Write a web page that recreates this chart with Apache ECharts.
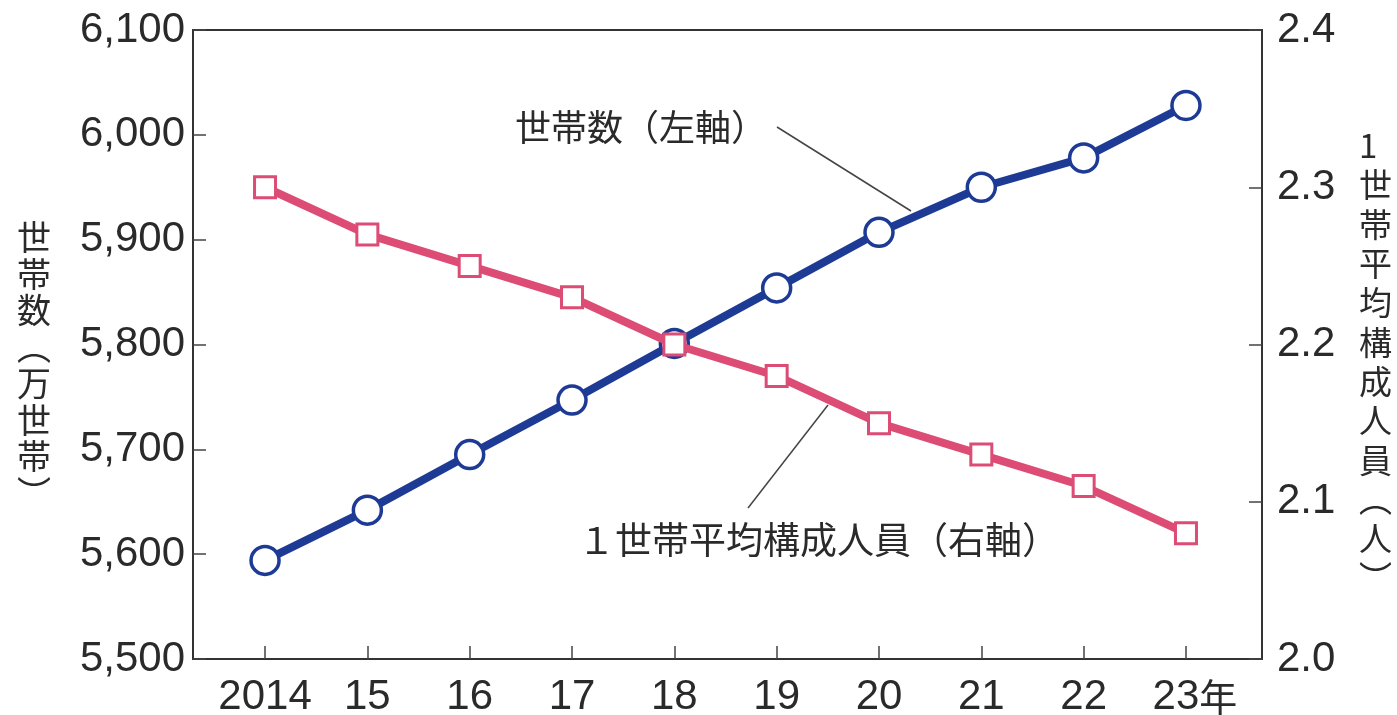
<!DOCTYPE html>
<html><head><meta charset="utf-8">
<script src="https://cdn.jsdelivr.net/npm/echarts@6/dist/echarts.min.js"></script>
<style>html,body{margin:0;padding:0;background:#fff}#c{width:1397px;height:715px}</style>
</head><body><div id="c"></div>
<script>
var years = [2014, 2015, 2016, 2017, 2018, 2019, 2020, 2021, 2022, 2023];
var yearLabels = ['2014', '15', '16', '17', '18', '19', '20', '21', '22', '23年'];
var households = [5594, 5642, 5695, 5747, 5801, 5854, 5907, 5950, 5978, 6028];
var avgMembers = [2.30, 2.27, 2.25, 2.23, 2.20, 2.18, 2.15, 2.13, 2.11, 2.08];
var leftTicks = [5500, 5600, 5700, 5800, 5900, 6000, 6100];
var rightTicks = [2.0, 2.1, 2.2, 2.3, 2.4];
var leftTitle = '世帯数︵万世帯︶';
var rightTitle = '1世帯平均構成人員︵人︶';
var noteHouseholds = '世帯数（左軸）';
var noteMembers = '１世帯平均構成人員（右軸）';

var BLUE = '#1d3a95', PINK = '#dc4c74', TXT = '#2a2a2a';
var NUM = '"Liberation Sans", Arial, Helvetica, sans-serif';
var CJK = '"Noto Sans CJK JP", "Noto Sans", sans-serif';

function pairs(xs, ys){ return xs.map(function(x,i){ return [x, ys[i]]; }); }

var chart = echarts.init(document.getElementById('c'));
chart.setOption({
  animation: false,
  grid: {left: 193, right: 135, top: 30, bottom: 56, outerBoundsMode: 'none', containLabel: false,
    show: true, borderColor: '#333', borderWidth: 2, backgroundColor: 'transparent'},
  xAxis: {
    type: 'value', min: 2013.296, max: 2023.743,
    axisLine: {show: false},
    splitLine: {show: false},
    axisTick: {show: true, inside: true, length: 13, lineStyle: {color: '#444', width: 1.5}, customValues: years},
    axisLabel: {
      customValues: years, margin: 17, color: TXT, fontSize: 42, fontFamily: NUM,
      formatter: function(v){ var i = years.indexOf(Math.round(v)); var s = yearLabels[i];
        if (i === years.length - 1) return '{p|}{n|23}{k|年}'; return s; },
      rich: {p: {width: 18}, n: {fontSize: 42, fontFamily: NUM, color: TXT}, k: {fontSize: 38, fontFamily: CJK, color: TXT}}
    }
  },
  yAxis: [{
    type: 'value', min: leftTicks[0], max: leftTicks[leftTicks.length-1], interval: 100, position: 'left',
    axisLine: {show: false}, splitLine: {show: false},
    axisTick: {show: true, inside: true, length: 13, lineStyle: {color: '#444', width: 1.5}},
    axisLabel: {margin: 8, color: TXT, fontSize: 42, fontFamily: NUM,
      formatter: function(v){ return v.toLocaleString('en-US'); }}
  }, {
    type: 'value', min: rightTicks[0], max: rightTicks[rightTicks.length-1], interval: 0.1, position: 'right',
    axisLine: {show: false}, splitLine: {show: false},
    axisTick: {show: true, inside: true, length: 13, lineStyle: {color: '#444', width: 1.5}},
    axisLabel: {margin: 15, color: TXT, fontSize: 42, fontFamily: NUM,
      formatter: function(v){ return v.toFixed(1); }}
  }],
  series: [{
    type: 'line', yAxisIndex: 0, data: pairs(years, households), z: 3,
    symbol: 'circle', symbolSize: 28,
    lineStyle: {color: BLUE, width: 8},
    itemStyle: {color: '#fff', borderColor: BLUE, borderWidth: 3.5}
  }, {
    type: 'line', yAxisIndex: 1, data: pairs(years, avgMembers), z: 4,
    symbol: 'rect', symbolSize: 21,
    lineStyle: {color: PINK, width: 8},
    itemStyle: {color: '#fff', borderColor: PINK, borderWidth: 3}
  }],
  graphic: [
    {type: 'text', left: 17, top: 219, style: {text: leftTitle.split('').join('\n'), font: '34px ' + CJK, fill: TXT, lineHeight: 36.5, align: 'center'}},
    {type: 'text', left: 1359, top: 126, style: {text: rightTitle.split('').join('\n'), font: '33px ' + CJK, fill: TXT, lineHeight: 39.3, align: 'center'}},
    {type: 'text', left: 515, top: 109, style: {text: noteHouseholds, font: '36px ' + CJK, fill: TXT}},
    {type: 'line', shape: {x1: 777, y1: 127, x2: 911, y2: 211}, style: {stroke: '#444', lineWidth: 1.5}},
    {type: 'text', left: 578, top: 521, style: {text: noteMembers, font: '37px ' + CJK, fill: TXT}},
    {type: 'line', shape: {x1: 748, y1: 508, x2: 828, y2: 405}, style: {stroke: '#444', lineWidth: 1.5}}
  ]
});
</script></body></html>
